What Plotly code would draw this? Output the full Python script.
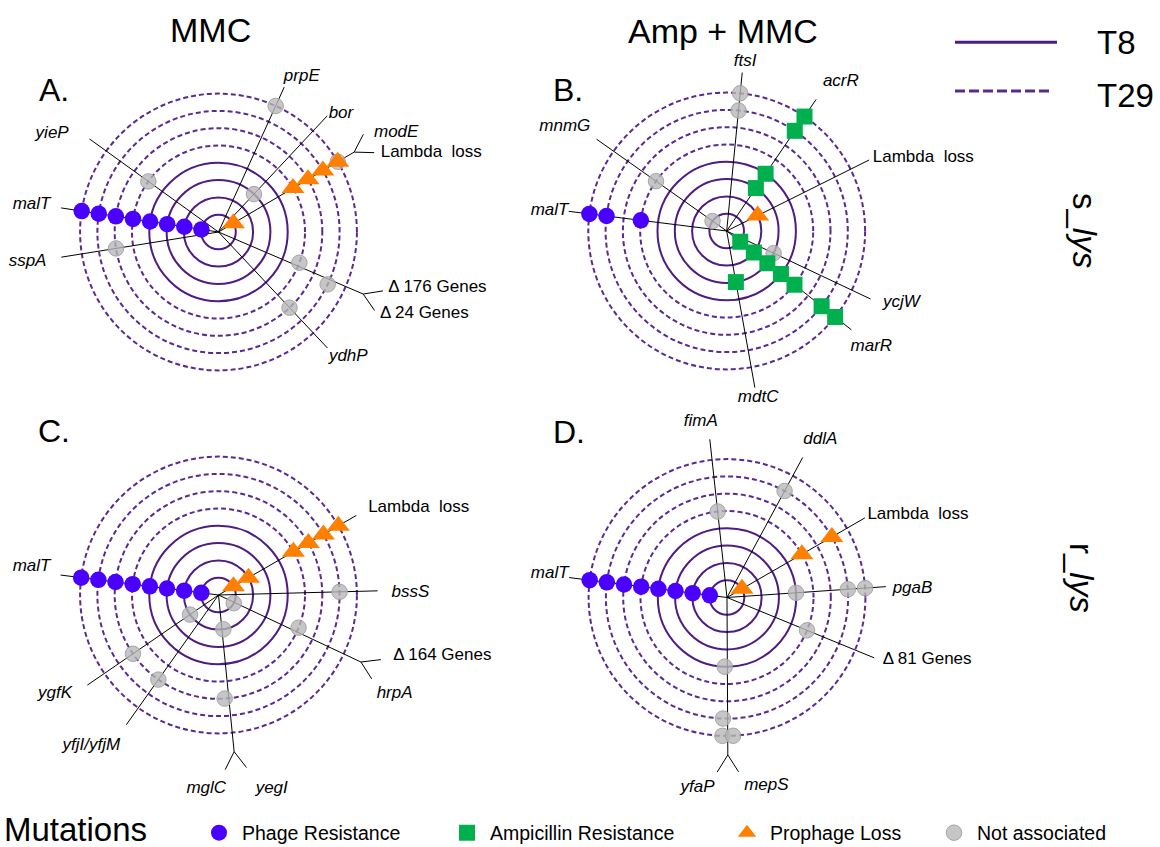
import plotly.graph_objects as go

W, H = 1160, 847

# ---------------- data ----------------
MUT_TYPES = ["Phage Resistance", "Ampicillin Resistance", "Prophage Loss", "Not associated"]
T8_RINGS = [1, 2, 3, 4]          # solid rings (time point T8)
T29_RINGS = [5, 6, 7, 8]         # dashed rings (time point T29)
CONDITIONS = ["MMC", "Amp + MMC"]
STRAINS = ["s_<i>lys</i>", "r_<i>lys</i>"]
PANEL_TAGS = ["A.", "B.", "C.", "D."]

# Panel A  (MMC, s_lys)
A_gene = ["prpE", "bor", "modE", "Lambda loss", "yieP", "malT", "sspA",
          "Δ 176 Genes", "Δ 24 Genes", "ydhP"]
A_theta = [65.6, 46.9, 30.5, 30.5, 144.2, 171.3, 189.1, -20.8, -25.6, -46.8]
A_forks = [("modE", "Lambda loss"), ("Δ 176 Genes", "Δ 24 Genes")]
A_mut_gene = ["malT", "malT", "malT", "malT", "malT", "malT", "malT", "malT",
              "Lambda loss", "Lambda loss", "Lambda loss", "Lambda loss", "Lambda loss",
              "prpE", "bor", "modE", "yieP", "sspA", "Δ 176 Genes", "Δ 24 Genes", "ydhP"]
A_mut_ring = [1, 2, 3, 4, 5, 6, 7, 8,
              1, 5, 6, 7, 8,
              8, 3, 8, 5, 6, 5, 7, 6]
A_mut_type = ["Phage Resistance"] * 8 + ["Prophage Loss"] * 5 + ["Not associated"] * 8

# Panel B  (Amp + MMC, s_lys)
B_gene = ["ftsI", "acrR", "Lambda loss", "mnmG", "malT", "ycjW", "marR", "mdtC"]
B_theta = [84.4, 55.8, 26.5, 144.8, 172.9, -25.3, -38.4, -79.8]
B_forks = []
B_mut_gene = ["malT", "malT", "malT",
              "acrR", "acrR", "acrR", "acrR",
              "marR", "marR", "marR", "marR", "marR", "marR", "marR",
              "mdtC",
              "Lambda loss",
              "ftsI", "ftsI", "mnmG", "mnmG", "ycjW"]
B_mut_ring = [5, 7, 8,
              3, 4, 7, 8,
              1, 2, 3, 4, 5, 7, 8,
              3,
              2,
              7, 8, 1, 5, 3]
B_mut_type = (["Phage Resistance"] * 3 + ["Ampicillin Resistance"] * 12 +
              ["Prophage Loss"] * 1 + ["Not associated"] * 5)

# Panel C  (MMC, r_lys)
C_gene = ["malT", "Lambda loss", "bssS", "Δ 164 Genes", "hrpA", "yegI", "mglC",
          "ygfK", "yfjI/yfjM"]
C_theta = [172.8, 30.0, 1.5, -22.2, -28.2, -82.0, -86.6, 214.5, 234.6]
C_forks = [("Δ 164 Genes", "hrpA"), ("yegI", "mglC")]
C_mut_gene = ["malT", "malT", "malT", "malT", "malT", "malT", "malT", "malT",
              "Lambda loss", "Lambda loss", "Lambda loss", "Lambda loss", "Lambda loss",
              "Lambda loss",
              "bssS", "Δ 164 Genes", "hrpA", "yegI", "mglC", "ygfK", "ygfK", "yfjI/yfjM"]
C_mut_ring = [1, 2, 3, 4, 5, 6, 7, 8,
              1, 2, 5, 6, 7, 8,
              7, 5, 1, 2, 6, 2, 6, 6]
C_mut_type = ["Phage Resistance"] * 8 + ["Prophage Loss"] * 6 + ["Not associated"] * 8

# Panel D  (Amp + MMC, r_lys)
D_gene = ["malT", "fimA", "ddlA", "Lambda loss", "pgaB", "Δ 81 Genes", "mepS", "yfaP"]
D_theta = [172.8, 96.2, 61.6, 30.0, 3.9, -22.3, -87.5, -91.9]
D_forks = [("mepS", "yfaP")]
D_mut_gene = ["malT", "malT", "malT", "malT", "malT", "malT", "malT", "malT",
              "Lambda loss", "Lambda loss", "Lambda loss",
              "fimA", "ddlA", "pgaB", "pgaB", "pgaB", "Δ 81 Genes",
              "yfaP", "yfaP", "yfaP", "mepS"]
D_mut_ring = [1, 2, 3, 4, 5, 6, 7, 8,
              1, 5, 7,
              5, 7, 4, 7, 8, 5,
              4, 7, 8, 8]
D_mut_type = ["Phage Resistance"] * 8 + ["Prophage Loss"] * 3 + ["Not associated"] * 10

# ---------------- label placement (layout only) ----------------
A_lab_r = [10.19, 9.84, 10.65, 10.43, 10.36, 9.84, 10.09, 10.33, 10.47, 10.41]
A_lab_t = [61.8, 44.0, 32.45, 26.0, 146.7, 170.8, 189.65, -18.2, -27.0, -43.9]
A_lab_p = ["middle center", "middle center", "middle right", "middle right", "middle left",
           "middle left", "middle left", "middle right", "middle right", "middle center"]
B_lab_r = [9.85, 10.84, 9.45, 9.91, 9.22, 9.94, 10.71, 9.79]
B_lab_t = [83.8, 52.5, 26.7, 142.7, 172.7, -24.6, -38.7, -79.3]
B_lab_p = ["middle center", "middle center", "middle right", "middle left", "middle left",
           "middle right", "middle center", "middle center"]
C_lab_r = [9.85, 10.02, 10.0, 10.69, 10.79, 11.13, 11.24, 10.22, 11.38]
C_lab_t = [170.5, 30.3, 0.9, -19.2, -32.1, -73.96, -93.6, 214.1, 229.8]
C_lab_p = ["middle left", "middle right", "middle right", "middle right", "middle right",
           "bottom center", "middle center", "middle left", "middle center"]
D_lab_r = [9.26, 10.25, 10.59, 9.42, 9.59, 9.7, 11.12, 11.1]
D_lab_t = [171.3, 98.5, 59.4, 30.5, 3.1, -21.9, -78.2, -98.8]
D_lab_p = ["middle left", "middle center", "middle center", "middle right", "middle right",
           "middle right", "middle center", "middle center"]

# ---------------- style ----------------
FONT = "Liberation Sans, Arial, sans-serif"
U = 17.3          # pixels per ring
RMAX = 11.5       # radial range shown by each polar subplot
SPOKE_R = 9.2
FORK_R = 9.1
BRANCH_R = 10.1
BRANCH_DT = 3.5
RING_SOLID = "#4e1c82"
RING_DASH = "#5a2a90"
MARKERS = {
    "Phage Resistance": dict(symbol="circle", size=16.5, color="#4a00ff", line=dict(width=0)),
    "Ampicillin Resistance": dict(symbol="square", size=16, color="#00b04f", line=dict(width=0)),
    "Prophage Loss": dict(symbol="triangle-up", size=20, color="#ff8000", line=dict(width=0)),
    "Not associated": dict(symbol="circle", size=15.5, color="rgba(184,184,184,0.8)",
                           line=dict(color="rgba(160,160,160,0.9)", width=1)),
}
DRAW_ORDER = ["Not associated", "Phage Resistance", "Ampicillin Resistance", "Prophage Loss"]
LEGEND_OF = {"Phage Resistance": "legend", "Ampicillin Resistance": "legend2",
             "Prophage Loss": "legend3", "Not associated": "legend4"}
LEGEND_X = {"legend": 216, "legend2": 464, "legend3": 744, "legend4": 951}

PANELS = [
    dict(center=(218.5, 232.0), gene=A_gene, theta=A_theta, forks=A_forks,
         mg=A_mut_gene, mr=A_mut_ring, mt=A_mut_type, lr=A_lab_r, lt=A_lab_t, lp=A_lab_p),
    dict(center=(726.7, 231.0), gene=B_gene, theta=B_theta, forks=B_forks,
         mg=B_mut_gene, mr=B_mut_ring, mt=B_mut_type, lr=B_lab_r, lt=B_lab_t, lp=B_lab_p),
    dict(center=(218.5, 595.0), gene=C_gene, theta=C_theta, forks=C_forks,
         mg=C_mut_gene, mr=C_mut_ring, mt=C_mut_type, lr=C_lab_r, lt=C_lab_t, lp=C_lab_p),
    dict(center=(727.0, 597.5), gene=D_gene, theta=D_theta, forks=D_forks,
         mg=D_mut_gene, mr=D_mut_ring, mt=D_mut_type, lr=D_lab_r, lt=D_lab_t, lp=D_lab_p),
]


def domain(cx, cy):
    R = RMAX * U
    return dict(x=[(cx - R) / W, (cx + R) / W], y=[1 - (cy + R) / H, 1 - (cy - R) / H])


def polar_cfg(cx, cy, rings, color, dash):
    return dict(
        domain=domain(cx, cy), bgcolor="rgba(0,0,0,0)",
        radialaxis=dict(range=[0, RMAX], tickmode="array", tickvals=rings, showticklabels=False,
                        ticks="", showline=False, gridcolor=color, gridwidth=1.6, griddash=dash),
        angularaxis=dict(showgrid=False, showline=False, showticklabels=False, ticks="",
                         rotation=0, direction="counterclockwise"))


def label_text(g):
    if g.startswith("Δ"):
        return g
    if g.startswith("Lambda"):
        return "Lambda\u00a0 loss"
    return "<i>" + g + "</i>"


fig = go.Figure()
layout_polars = {}
shown = set()
for i, p in enumerate(PANELS):
    cx, cy = p["center"]
    solid_id = "polar" if i == 0 else "polar%d" % (2 * i + 1)
    dash_id = "polar%d" % (2 * i + 2)
    layout_polars[solid_id] = polar_cfg(cx, cy, T8_RINGS, RING_SOLID, "solid")
    layout_polars[dash_id] = polar_cfg(cx, cy, T29_RINGS, RING_DASH, "5px,3px")

    # invisible anchor trace so the solid-ring (T8) subplot is rendered
    fig.add_trace(go.Scatterpolar(r=[0], theta=[0], mode="markers", subplot=solid_id,
                                  marker=dict(size=1, opacity=0), showlegend=False,
                                  hoverinfo="skip"))

    th = dict(zip(p["gene"], p["theta"]))
    forked = {g for f in p["forks"] for g in f}
    rr, tt = [], []
    for g in p["gene"]:
        if g in forked:
            continue
        rr += [0, SPOKE_R, None]
        tt += [th[g], th[g], th[g]]
    for hi, lo in p["forks"]:
        m = (th[hi] + th[lo]) / 2
        rr += [0, FORK_R, BRANCH_R, None, FORK_R, BRANCH_R, None]
        tt += [m, m, m + BRANCH_DT, m, m, m - BRANCH_DT, m]
    fig.add_trace(go.Scatterpolar(r=rr, theta=tt, mode="lines", subplot=dash_id,
                                  line=dict(color="black", width=1), showlegend=False,
                                  hoverinfo="skip", connectgaps=False))

    for k in DRAW_ORDER:
        idx = [j for j, t in enumerate(p["mt"]) if t == k]
        if not idx:
            continue
        fig.add_trace(go.Scatterpolar(
            r=[p["mr"][j] for j in idx], theta=[th[p["mg"][j]] for j in idx],
            mode="markers", marker=MARKERS[k], subplot=dash_id, name=k,
            legend=LEGEND_OF[k], legendgroup=k, showlegend=k not in shown,
            cliponaxis=False, hoverinfo="skip"))
        shown.add(k)

    fig.add_trace(go.Scatterpolar(
        r=p["lr"], theta=p["lt"], mode="text", text=[label_text(g) for g in p["gene"]],
        textposition=p["lp"], textfont=dict(size=17, family=FONT, color="black"),
        subplot=dash_id, showlegend=False, cliponaxis=False, hoverinfo="skip"))


def px(x, y):
    return x / W, 1 - y / H


annotations = []


def ann(text, x, y, size, **kw):
    ax, ay = px(x, y)
    d = dict(text=text, x=ax, y=ay, xref="paper", yref="paper", showarrow=False,
             font=dict(size=size, family=FONT, color="black"), xanchor="center", yanchor="middle")
    d.update(kw)
    annotations.append(d)


ann(CONDITIONS[0], 210, 30, 34)
ann(CONDITIONS[1], 723, 31, 34)
for tag, (x, y) in zip(PANEL_TAGS, [(53.5, 90), (568, 90), (54.5, 431.5), (569, 432)]):
    ann(tag, x, y, 32)
ann("T8", 1116, 42, 33)
ann("T29", 1125, 96, 33)
ann(STRAINS[0], 1085, 230, 33, textangle=90)
ann(STRAINS[1], 1082, 578, 33, textangle=90)
ann("Mutations", 2, 829, 33, xanchor="left")

shapes = [
    dict(type="line", xref="paper", yref="paper", x0=955 / W, x1=1057 / W,
         y0=1 - 42.3 / H, y1=1 - 42.3 / H, line=dict(color=RING_SOLID, width=3)),
    dict(type="line", xref="paper", yref="paper", x0=955 / W, x1=1053 / W,
         y0=1 - 91 / H, y1=1 - 91 / H, line=dict(color=RING_DASH, width=3, dash="10px,4px")),
]

legends = {}
for name, mx in LEGEND_X.items():
    legends[name] = dict(x=(mx - 20) / W, y=1 - 833 / H, xref="container", yref="container",
                         xanchor="left", yanchor="middle",
                         orientation="h", bgcolor="rgba(0,0,0,0)", borderwidth=0,
                         itemwidth=36,
                         font=dict(size=19.5, family=FONT, color="black"))

fig.update_layout(
    width=W, height=H, margin=dict(l=0, r=0, t=0, b=0, pad=0, autoexpand=False),
    paper_bgcolor="white", plot_bgcolor="white",
    font=dict(family=FONT, color="black"),
    annotations=annotations, shapes=shapes, showlegend=True,
    **layout_polars, **legends)

fig.write_html("out.html", config={"displayModeBar": False},
               post_script="document.body.style.margin='0';document.body.style.overflow='hidden';")
